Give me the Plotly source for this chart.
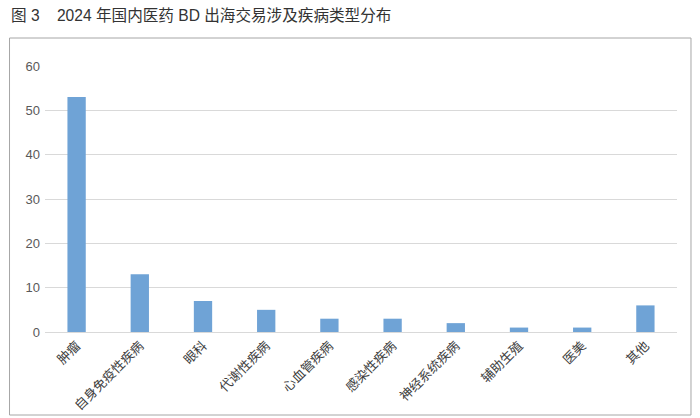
import plotly.graph_objects as go

categories = ["肿瘤", "自身免疫性疾病", "眼科", "代谢性疾病", "心血管疾病", "感染性疾病", "神经系统疾病", "辅助生殖", "医美", "其他"]
values = [53, 13, 7, 5, 3, 3, 2, 1, 1, 6]
y_ticks = [0, 10, 20, 30, 40, 50, 60]

W, H = 700, 418
L, R, T, B = 44.5, 23, 66, 86
pw, ph = W - L - R, H - T - B

def px2paper_x(x):
    return (x - L) / pw

def px2paper_y(y):
    return (H - B - y) / ph

fig = go.Figure(go.Bar(
    x=categories, y=values,
    marker=dict(color="#6fa3d6", line=dict(width=0)),
    width=0.29,
))

fig.update_layout(
    width=W, height=H,
    margin=dict(l=L, r=R, t=T, b=B, autoexpand=False),
    paper_bgcolor="white", plot_bgcolor="white",
    font=dict(family="Liberation Sans, Noto Sans CJK SC, sans-serif", color="#595959", size=12),
    showlegend=False,
    bargap=0.7,
    xaxis=dict(
        tickangle=-45, showgrid=False, showline=True, linecolor="#d9d9d9", linewidth=1,
        ticks="", tickfont=dict(size=13, color="#404040", family="Noto Sans CJK SC, sans-serif"),
        ticklabelstandoff=0, automargin=False,
    ),
    yaxis=dict(
        range=[0, 60], tickvals=y_ticks, showgrid=True, gridcolor="#d9d9d9", gridwidth=1,
        zeroline=False, showline=False, ticks="", tickfont=dict(size=13, color="#595959"),
        ticklabelstandoff=4, automargin=False,
    ),
    annotations=[dict(
        text="图 3&nbsp;&nbsp;&nbsp;&nbsp;2024 年国内医药 BD 出海交易涉及疾病类型分布",
        xref="paper", yref="paper", x=px2paper_x(8), y=px2paper_y(15),
        xanchor="left", yanchor="middle", showarrow=False,
        font=dict(size=15.6, color="#333333"),
    )],
    shapes=[dict(
        type="rect", xref="paper", yref="paper",
        x0=px2paper_x(9), x1=px2paper_x(691), y0=px2paper_y(38), y1=px2paper_y(415),
        line=dict(color="#a6a6a6", width=1), fillcolor="rgba(0,0,0,0)", layer="below",
    )],
)

fig.write_html("out.html")
